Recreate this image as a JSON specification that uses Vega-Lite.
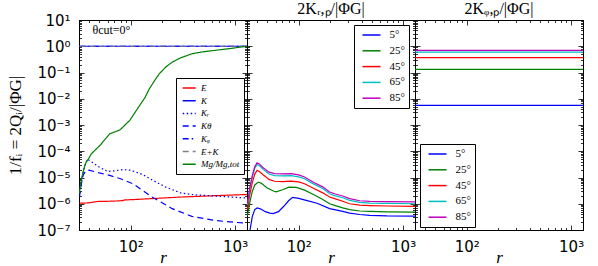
{
  "$schema": "https://vega.github.io/schema/vega-lite/v6.json",
  "background": "white",
  "padding": {"left": 6, "top": -7, "right": 5, "bottom": 9},
  "config": {
    "view": {"stroke": "black", "strokeWidth": 1},
    "axis": {"domainColor": "black", "tickColor": "black", "labelColor": "black", "titleColor": "black", "grid": false, "labelFont": "DejaVu Sans", "labelFontSize": 15, "labelOverlap": false, "labelFlush": false, "tickWidth": 0.8},
    "title": {"font": "Liberation Serif", "fontSize": 16, "fontWeight": "normal", "color": "black", "offset": 3},
    "legend": {"fillColor": "white", "strokeColor": "black", "strokeWidth": 1, "cornerRadius": 0, "title": null, "labelColor": "black", "symbolStrokeWidth": 1.5}
  },
  "datasets": {
    "p1": [
      {"s": "E", "r": 32.3, "v": 1.05e-6}, {"s": "E", "r": 38, "v": 1.07e-6}, {"s": "E", "r": 42, "v": 1.12e-6}, {"s": "E", "r": 46, "v": 1.18e-6}, {"s": "E", "r": 48, "v": 1.22e-6}, {"s": "E", "r": 60, "v": 1.24e-6}, {"s": "E", "r": 75, "v": 1.28e-6}, {"s": "E", "r": 84, "v": 1.32e-6}, {"s": "E", "r": 88, "v": 1.4e-6}, {"s": "E", "r": 110, "v": 1.45e-6}, {"s": "E", "r": 150, "v": 1.55e-6}, {"s": "E", "r": 200, "v": 1.65e-6}, {"s": "E", "r": 300, "v": 1.8e-6}, {"s": "E", "r": 500, "v": 1.95e-6}, {"s": "E", "r": 800, "v": 2.1e-6}, {"s": "E", "r": 1300, "v": 2.25e-6},
      {"s": "K", "r": 32.3, "v": 1}, {"s": "K", "r": 200, "v": 1}, {"s": "K", "r": 1300, "v": 1},
      {"s": "Kᵣ", "r": 32.3, "v": 1.8e-6}, {"s": "Kᵣ", "r": 33.5, "v": 5e-6}, {"s": "Kᵣ", "r": 35, "v": 1.5e-5}, {"s": "Kᵣ", "r": 37, "v": 3.5e-5}, {"s": "Kᵣ", "r": 38.5, "v": 5e-5}, {"s": "Kᵣ", "r": 42, "v": 4e-5}, {"s": "Kᵣ", "r": 50, "v": 2.5e-5}, {"s": "Kᵣ", "r": 60, "v": 1.7e-5}, {"s": "Kᵣ", "r": 70, "v": 1.8e-5}, {"s": "Kᵣ", "r": 85, "v": 2e-5}, {"s": "Kᵣ", "r": 100, "v": 1.9e-5}, {"s": "Kᵣ", "r": 130, "v": 1.3e-5}, {"s": "Kᵣ", "r": 175, "v": 6.7e-6}, {"s": "Kᵣ", "r": 220, "v": 4.2e-6}, {"s": "Kᵣ", "r": 300, "v": 2.6e-6}, {"s": "Kᵣ", "r": 400, "v": 2.2e-6}, {"s": "Kᵣ", "r": 600, "v": 2.0e-6}, {"s": "Kᵣ", "r": 900, "v": 1.8e-6}, {"s": "Kᵣ", "r": 1300, "v": 1.65e-6},
      {"s": "Kθ", "r": 32.3, "v": 1.8e-6}, {"s": "Kθ", "r": 33.5, "v": 5e-6}, {"s": "Kθ", "r": 35, "v": 1.2e-5}, {"s": "Kθ", "r": 37, "v": 1.8e-5}, {"s": "Kθ", "r": 40, "v": 1.9e-5}, {"s": "Kθ", "r": 50, "v": 1.5e-5}, {"s": "Kθ", "r": 63, "v": 1.2e-5}, {"s": "Kθ", "r": 80, "v": 9e-6}, {"s": "Kθ", "r": 105, "v": 5.8e-6}, {"s": "Kθ", "r": 130, "v": 3.2e-6}, {"s": "Kθ", "r": 160, "v": 1.8e-6}, {"s": "Kθ", "r": 200, "v": 1.1e-6}, {"s": "Kθ", "r": 250, "v": 6.5e-7}, {"s": "Kθ", "r": 385, "v": 3.3e-7}, {"s": "Kθ", "r": 650, "v": 2.3e-7}, {"s": "Kθ", "r": 1000, "v": 1.95e-7}, {"s": "Kθ", "r": 1300, "v": 1.85e-7},
      {"s": "Kᵩ", "r": 32.3, "v": 1}, {"s": "Kᵩ", "r": 200, "v": 1}, {"s": "Kᵩ", "r": 1300, "v": 1},
      {"s": "E+K", "r": 32.3, "v": 1}, {"s": "E+K", "r": 200, "v": 1}, {"s": "E+K", "r": 1300, "v": 1},
      {"s": "Mg/Mg,tot", "r": 32.3, "v": 2.5e-6}, {"s": "Mg/Mg,tot", "r": 33, "v": 5e-6}, {"s": "Mg/Mg,tot", "r": 34, "v": 1e-5}, {"s": "Mg/Mg,tot", "r": 35.5, "v": 2e-5}, {"s": "Mg/Mg,tot", "r": 37, "v": 3.5e-5}, {"s": "Mg/Mg,tot", "r": 39.5, "v": 5.2e-5}, {"s": "Mg/Mg,tot", "r": 42, "v": 8e-5}, {"s": "Mg/Mg,tot", "r": 51, "v": 1.7e-4}, {"s": "Mg/Mg,tot", "r": 63, "v": 4.6e-4}, {"s": "Mg/Mg,tot", "r": 79, "v": 6.5e-4}, {"s": "Mg/Mg,tot", "r": 98, "v": 1.5e-3}, {"s": "Mg/Mg,tot", "r": 122, "v": 5.6e-3}, {"s": "Mg/Mg,tot", "r": 137, "v": 1.1e-2}, {"s": "Mg/Mg,tot", "r": 151, "v": 2.4e-2}, {"s": "Mg/Mg,tot", "r": 170, "v": 5e-2}, {"s": "Mg/Mg,tot", "r": 188, "v": 0.09}, {"s": "Mg/Mg,tot", "r": 220, "v": 0.17}, {"s": "Mg/Mg,tot", "r": 251, "v": 0.25}, {"s": "Mg/Mg,tot", "r": 300, "v": 0.36}, {"s": "Mg/Mg,tot", "r": 388, "v": 0.52}, {"s": "Mg/Mg,tot", "r": 500, "v": 0.62}, {"s": "Mg/Mg,tot", "r": 647, "v": 0.7}, {"s": "Mg/Mg,tot", "r": 900, "v": 0.82}, {"s": "Mg/Mg,tot", "r": 1300, "v": 1.0}
    ],
    "p2": [
      {"a": "5°", "r": 32.3, "v": 3e-8}, {"a": "5°", "r": 34.2, "v": 1e-7}, {"a": "5°", "r": 36, "v": 3.3e-7}, {"a": "5°", "r": 38, "v": 6.0e-7}, {"a": "5°", "r": 40, "v": 6.9e-7}, {"a": "5°", "r": 43, "v": 6.4e-7}, {"a": "5°", "r": 48, "v": 5.0e-7}, {"a": "5°", "r": 53, "v": 4.4e-7}, {"a": "5°", "r": 57, "v": 4.2e-7}, {"a": "5°", "r": 64, "v": 5e-7}, {"a": "5°", "r": 72, "v": 8e-7}, {"a": "5°", "r": 80, "v": 1.3e-6}, {"a": "5°", "r": 87.5, "v": 1.75e-6}, {"a": "5°", "r": 100, "v": 1.6e-6}, {"a": "5°", "r": 118, "v": 1.35e-6}, {"a": "5°", "r": 150, "v": 1.05e-6}, {"a": "5°", "r": 198, "v": 6.5e-7}, {"a": "5°", "r": 264, "v": 5.1e-7}, {"a": "5°", "r": 308, "v": 4.4e-7}, {"a": "5°", "r": 384, "v": 3.9e-7}, {"a": "5°", "r": 480, "v": 3.6e-7}, {"a": "5°", "r": 700, "v": 3.45e-7}, {"a": "5°", "r": 1300, "v": 3.4e-7},
      {"a": "25°", "r": 32.3, "v": 3.5e-7}, {"a": "25°", "r": 34, "v": 1.1e-6}, {"a": "25°", "r": 36, "v": 3e-6}, {"a": "25°", "r": 38, "v": 5.2e-6}, {"a": "25°", "r": 41, "v": 6.7e-6}, {"a": "25°", "r": 44, "v": 6e-6}, {"a": "25°", "r": 50, "v": 4e-6}, {"a": "25°", "r": 58, "v": 3e-6}, {"a": "25°", "r": 61, "v": 2.85e-6}, {"a": "25°", "r": 70, "v": 3.4e-6}, {"a": "25°", "r": 81, "v": 4.3e-6}, {"a": "25°", "r": 95, "v": 4.2e-6}, {"a": "25°", "r": 114, "v": 3.3e-6}, {"a": "25°", "r": 140, "v": 2.2e-6}, {"a": "25°", "r": 170, "v": 1.45e-6}, {"a": "25°", "r": 198, "v": 1.0e-6}, {"a": "25°", "r": 221, "v": 8.7e-7}, {"a": "25°", "r": 264, "v": 7e-7}, {"a": "25°", "r": 308, "v": 6e-7}, {"a": "25°", "r": 384, "v": 5.3e-7}, {"a": "25°", "r": 480, "v": 5.1e-7}, {"a": "25°", "r": 700, "v": 4.9e-7}, {"a": "25°", "r": 1300, "v": 4.8e-7},
      {"a": "45°", "r": 32.3, "v": 6e-7}, {"a": "45°", "r": 34, "v": 2.2e-6}, {"a": "45°", "r": 36, "v": 6.5e-6}, {"a": "45°", "r": 38, "v": 1.35e-5}, {"a": "45°", "r": 40, "v": 1.88e-5}, {"a": "45°", "r": 42, "v": 1.7e-5}, {"a": "45°", "r": 46, "v": 1.25e-5}, {"a": "45°", "r": 52, "v": 8.5e-6}, {"a": "45°", "r": 58.6, "v": 7.2e-6}, {"a": "45°", "r": 70, "v": 7.0e-6}, {"a": "45°", "r": 84.7, "v": 7.3e-6}, {"a": "45°", "r": 100, "v": 6.8e-6}, {"a": "45°", "r": 113.7, "v": 5.8e-6}, {"a": "45°", "r": 140, "v": 3.8e-6}, {"a": "45°", "r": 170, "v": 2.6e-6}, {"a": "45°", "r": 198, "v": 1.8e-6}, {"a": "45°", "r": 221, "v": 1.56e-6}, {"a": "45°", "r": 264, "v": 1.25e-6}, {"a": "45°", "r": 308, "v": 1.0e-6}, {"a": "45°", "r": 384, "v": 8.8e-7}, {"a": "45°", "r": 480, "v": 8.5e-7}, {"a": "45°", "r": 700, "v": 8.2e-7}, {"a": "45°", "r": 1300, "v": 8e-7},
      {"a": "65°", "r": 32.3, "v": 9e-7}, {"a": "65°", "r": 34, "v": 3.5e-6}, {"a": "65°", "r": 36, "v": 1.05e-5}, {"a": "65°", "r": 38, "v": 2.25e-5}, {"a": "65°", "r": 40, "v": 3.15e-5}, {"a": "65°", "r": 42, "v": 2.85e-5}, {"a": "65°", "r": 46, "v": 2.0e-5}, {"a": "65°", "r": 52, "v": 1.35e-5}, {"a": "65°", "r": 58.6, "v": 1.18e-5}, {"a": "65°", "r": 70, "v": 1.16e-5}, {"a": "65°", "r": 84.7, "v": 1.18e-5}, {"a": "65°", "r": 100, "v": 1.06e-5}, {"a": "65°", "r": 113.7, "v": 9e-6}, {"a": "65°", "r": 140, "v": 5.6e-6}, {"a": "65°", "r": 170, "v": 3.8e-6}, {"a": "65°", "r": 198, "v": 2.4e-6}, {"a": "65°", "r": 221, "v": 2.05e-6}, {"a": "65°", "r": 264, "v": 1.7e-6}, {"a": "65°", "r": 308, "v": 1.35e-6}, {"a": "65°", "r": 384, "v": 1.12e-6}, {"a": "65°", "r": 480, "v": 1.06e-6}, {"a": "65°", "r": 700, "v": 1.03e-6}, {"a": "65°", "r": 1300, "v": 1.0e-6},
      {"a": "85°", "r": 32.3, "v": 1.0e-6}, {"a": "85°", "r": 34, "v": 4e-6}, {"a": "85°", "r": 36, "v": 1.2e-5}, {"a": "85°", "r": 38, "v": 2.6e-5}, {"a": "85°", "r": 40, "v": 3.66e-5}, {"a": "85°", "r": 42, "v": 3.3e-5}, {"a": "85°", "r": 46, "v": 2.3e-5}, {"a": "85°", "r": 52, "v": 1.6e-5}, {"a": "85°", "r": 58.6, "v": 1.4e-5}, {"a": "85°", "r": 70, "v": 1.38e-5}, {"a": "85°", "r": 84.7, "v": 1.4e-5}, {"a": "85°", "r": 100, "v": 1.25e-5}, {"a": "85°", "r": 113.7, "v": 1.05e-5}, {"a": "85°", "r": 140, "v": 6.5e-6}, {"a": "85°", "r": 170, "v": 4.4e-6}, {"a": "85°", "r": 198, "v": 2.8e-6}, {"a": "85°", "r": 221, "v": 2.4e-6}, {"a": "85°", "r": 264, "v": 1.97e-6}, {"a": "85°", "r": 308, "v": 1.56e-6}, {"a": "85°", "r": 384, "v": 1.3e-6}, {"a": "85°", "r": 480, "v": 1.24e-6}, {"a": "85°", "r": 700, "v": 1.2e-6}, {"a": "85°", "r": 1300, "v": 1.18e-6}
    ],
    "p3": [
      {"a": "5°", "r": 32, "v": 0.0056}, {"a": "5°", "r": 1300, "v": 0.0056},
      {"a": "25°", "r": 32, "v": 0.132}, {"a": "25°", "r": 1300, "v": 0.132},
      {"a": "45°", "r": 32, "v": 0.37}, {"a": "45°", "r": 1300, "v": 0.37},
      {"a": "65°", "r": 32, "v": 0.6}, {"a": "65°", "r": 1300, "v": 0.6},
      {"a": "85°", "r": 32, "v": 0.7}, {"a": "85°", "r": 1300, "v": 0.7}
    ]
  },
  "resolve": {"scale": {"color": "independent", "strokeDash": "independent"}},
  "spacing": 0,
  "bounds": "flush",
  "hconcat": [
    {
      "width": 168, "height": 210,
      "title": {"text": " "},
      "resolve": {"axis": {"x": "independent", "y": "independent"}},
      "layer": [
        {
          "data": {"name": "p1"},
          "mark": {"type": "line", "clip": true, "strokeWidth": 1.2},
          "encoding": {
            "x": {"field": "r", "type": "quantitative", "scale": {"type": "log", "domain": [32, 1300], "nice": false},
              "axis": {"orient": "bottom", "values": [40, 50, 60, 70, 80, 90, 100, 200, 300, 400, 500, 600, 700, 800, 900, 1000], "labelExpr": "datum.value==100?'10²':datum.value==1000?'10³':''", "tickSize": {"condition": {"test": "datum.value==100||datum.value==1000", "value": -5}, "value": -2.5}, "labelPadding": 14, "title": "r", "titleFont": "Liberation Serif", "titleFontStyle": "italic", "titleFontWeight": "normal", "titleFontSize": 17, "titlePadding": -7}},
            "y": {"field": "v", "type": "quantitative", "scale": {"type": "log", "domain": [1e-7, 10], "nice": false},
              "axis": {"orient": "left", "values": [1e-7, 2e-7, 3e-7, 4e-7, 5e-7, 6e-7, 7e-7, 8e-7, 9e-7, 1e-6, 2e-6, 3e-6, 4e-6, 5e-6, 6e-6, 7e-6, 8e-6, 9e-6, 1e-5, 2e-5, 3e-5, 4e-5, 5e-5, 6e-5, 7e-5, 8e-5, 9e-5, 1e-4, 2e-4, 3e-4, 4e-4, 5e-4, 6e-4, 7e-4, 8e-4, 9e-4, 1e-3, 2e-3, 3e-3, 4e-3, 5e-3, 6e-3, 7e-3, 8e-3, 9e-3, 0.01, 0.02, 0.03, 0.04, 0.05, 0.06, 0.07, 0.08, 0.09, 0.1, 0.2, 0.3, 0.4, 0.5, 0.6, 0.7, 0.8, 0.9, 1, 2, 3, 4, 5, 6, 7, 8, 9, 10],
                "labelExpr": "abs(log(datum.value)/LN10-round(log(datum.value)/LN10))<0.001 ? '10'+['⁻⁷','⁻⁶','⁻⁵','⁻⁴','⁻³','⁻²','⁻¹','⁰','¹'][round(log(datum.value)/LN10)+7] : ''",
                "tickSize": {"condition": {"test": "abs(log(datum.value)/LN10-round(log(datum.value)/LN10))<0.001", "value": -5}, "value": -2.5}, "labelPadding": 14,
                "title": "1/fᵢ = 2Qᵢ/|ΦG|", "titleFont": "Liberation Serif", "titleFontWeight": "normal", "titleFontSize": 17, "titlePadding": 12}},
            "color": {"field": "s", "type": "nominal", "scale": {"domain": ["E", "K", "Kᵣ", "Kθ", "Kᵩ", "E+K", "Mg/Mg,tot"], "range": ["#ff0000", "#0000ff", "#0000ff", "#0000ff", "#0000ff", "#808080", "#008000"]},
              "legend": {"orient": "none", "legendX": 97, "legendY": 58, "padding": 4, "symbolType": "M-0.66,0H1.94", "symbolSize": 100, "rowPadding": 1.7, "labelOffset": 9, "labelFont": "Liberation Serif", "labelFontStyle": "italic", "labelFontSize": 9}},
            "strokeDash": {"field": "s", "type": "nominal", "scale": {"domain": ["E", "K", "Kᵣ", "Kθ", "Kᵩ", "E+K", "Mg/Mg,tot"], "range": [[1, 0], [1, 0], [1.5, 2.5], [6, 4], [6, 3, 1.5, 3], [6, 4], [1, 0]]}}
          }
        },
        {
          "data": {"name": "p1"},
          "mark": {"type": "line", "opacity": 0, "clip": true},
          "encoding": {
            "x": {"field": "r", "type": "quantitative", "scale": {"type": "log", "domain": [32, 1300], "nice": false},
              "axis": {"orient": "top", "values": [40, 50, 60, 70, 80, 90, 100, 200, 300, 400, 500, 600, 700, 800, 900, 1000], "labels": false, "tickSize": {"condition": {"test": "datum.value==100||datum.value==1000", "value": -5}, "value": -2.5}, "title": null}},
            "y": {"field": "v", "type": "quantitative", "scale": {"type": "log", "domain": [1e-7, 10], "nice": false},
              "axis": {"orient": "right", "values": [1e-7, 2e-7, 3e-7, 4e-7, 5e-7, 6e-7, 7e-7, 8e-7, 9e-7, 1e-6, 2e-6, 3e-6, 4e-6, 5e-6, 6e-6, 7e-6, 8e-6, 9e-6, 1e-5, 2e-5, 3e-5, 4e-5, 5e-5, 6e-5, 7e-5, 8e-5, 9e-5, 1e-4, 2e-4, 3e-4, 4e-4, 5e-4, 6e-4, 7e-4, 8e-4, 9e-4, 1e-3, 2e-3, 3e-3, 4e-3, 5e-3, 6e-3, 7e-3, 8e-3, 9e-3, 0.01, 0.02, 0.03, 0.04, 0.05, 0.06, 0.07, 0.08, 0.09, 0.1, 0.2, 0.3, 0.4, 0.5, 0.6, 0.7, 0.8, 0.9, 1, 2, 3, 4, 5, 6, 7, 8, 9, 10], "labels": false, "tickSize": {"condition": {"test": "abs(log(datum.value)/LN10-round(log(datum.value)/LN10))<0.001", "value": -5}, "value": -2.5}, "title": null}}
          }
        },
        {
          "data": {"values": [{}]},
          "mark": {"type": "text", "align": "left", "baseline": "middle", "font": "Liberation Serif", "fontSize": 12, "color": "black"},
          "encoding": {
            "x": {"datum": 43, "type": "quantitative", "scale": {"type": "log"}, "axis": null},
            "y": {"datum": 4, "type": "quantitative", "scale": {"type": "log"}, "axis": null},
            "text": {"value": "θcut=0°"}
          }
        }
      ]
    },
    {
      "width": 168, "height": 210,
      "title": {"text": "2Kᵣ,ₚ/|ΦG|"},
      "resolve": {"axis": {"x": "independent", "y": "independent"}},
      "layer": [
        {
          "data": {"name": "p2"},
          "mark": {"type": "line", "clip": true, "strokeWidth": 1.2},
          "encoding": {
            "x": {"field": "r", "type": "quantitative", "scale": {"type": "log", "domain": [32, 1300], "nice": false},
              "axis": {"orient": "bottom", "values": [40, 50, 60, 70, 80, 90, 100, 200, 300, 400, 500, 600, 700, 800, 900, 1000], "labelExpr": "datum.value==100?'10²':datum.value==1000?'10³':''", "tickSize": {"condition": {"test": "datum.value==100||datum.value==1000", "value": -5}, "value": -2.5}, "labelPadding": 14, "title": "r", "titleFont": "Liberation Serif", "titleFontStyle": "italic", "titleFontWeight": "normal", "titleFontSize": 17, "titlePadding": -7}},
            "y": {"field": "v", "type": "quantitative", "scale": {"type": "log", "domain": [1e-7, 10], "nice": false},
              "axis": {"orient": "left", "values": [1e-7, 2e-7, 3e-7, 4e-7, 5e-7, 6e-7, 7e-7, 8e-7, 9e-7, 1e-6, 2e-6, 3e-6, 4e-6, 5e-6, 6e-6, 7e-6, 8e-6, 9e-6, 1e-5, 2e-5, 3e-5, 4e-5, 5e-5, 6e-5, 7e-5, 8e-5, 9e-5, 1e-4, 2e-4, 3e-4, 4e-4, 5e-4, 6e-4, 7e-4, 8e-4, 9e-4, 1e-3, 2e-3, 3e-3, 4e-3, 5e-3, 6e-3, 7e-3, 8e-3, 9e-3, 0.01, 0.02, 0.03, 0.04, 0.05, 0.06, 0.07, 0.08, 0.09, 0.1, 0.2, 0.3, 0.4, 0.5, 0.6, 0.7, 0.8, 0.9, 1, 2, 3, 4, 5, 6, 7, 8, 9, 10], "labels": false, "tickSize": {"condition": {"test": "abs(log(datum.value)/LN10-round(log(datum.value)/LN10))<0.001", "value": -5}, "value": -2.5}, "title": null}},
            "color": {"field": "a", "type": "nominal", "scale": {"domain": ["5°", "25°", "45°", "65°", "85°"], "range": ["#0000ff", "#008000", "#ff0000", "#00bfbf", "#bf00bf"]},
              "legend": {"orient": "none", "legendX": 107, "legendY": 5, "padding": 4, "symbolType": "M-0.3,0H3.3", "symbolSize": 100, "rowPadding": 4.8, "labelOffset": 19.5, "labelFont": "Liberation Serif", "labelFontSize": 11}}
          }
        },
        {
          "data": {"name": "p2"},
          "mark": {"type": "line", "opacity": 0, "clip": true},
          "encoding": {
            "x": {"field": "r", "type": "quantitative", "scale": {"type": "log", "domain": [32, 1300], "nice": false},
              "axis": {"orient": "top", "values": [40, 50, 60, 70, 80, 90, 100, 200, 300, 400, 500, 600, 700, 800, 900, 1000], "labels": false, "tickSize": {"condition": {"test": "datum.value==100||datum.value==1000", "value": -5}, "value": -2.5}, "title": null}},
            "y": {"field": "v", "type": "quantitative", "scale": {"type": "log", "domain": [1e-7, 10], "nice": false},
              "axis": {"orient": "right", "values": [1e-7, 2e-7, 3e-7, 4e-7, 5e-7, 6e-7, 7e-7, 8e-7, 9e-7, 1e-6, 2e-6, 3e-6, 4e-6, 5e-6, 6e-6, 7e-6, 8e-6, 9e-6, 1e-5, 2e-5, 3e-5, 4e-5, 5e-5, 6e-5, 7e-5, 8e-5, 9e-5, 1e-4, 2e-4, 3e-4, 4e-4, 5e-4, 6e-4, 7e-4, 8e-4, 9e-4, 1e-3, 2e-3, 3e-3, 4e-3, 5e-3, 6e-3, 7e-3, 8e-3, 9e-3, 0.01, 0.02, 0.03, 0.04, 0.05, 0.06, 0.07, 0.08, 0.09, 0.1, 0.2, 0.3, 0.4, 0.5, 0.6, 0.7, 0.8, 0.9, 1, 2, 3, 4, 5, 6, 7, 8, 9, 10], "labels": false, "tickSize": {"condition": {"test": "abs(log(datum.value)/LN10-round(log(datum.value)/LN10))<0.001", "value": -5}, "value": -2.5}, "title": null}}
          }
        }
      ]
    },
    {
      "width": 168, "height": 210,
      "title": {"text": "2Kᵩ,ₚ/|ΦG|"},
      "resolve": {"axis": {"x": "independent", "y": "independent"}},
      "layer": [
        {
          "data": {"name": "p3"},
          "mark": {"type": "line", "clip": true, "strokeWidth": 1.2},
          "encoding": {
            "x": {"field": "r", "type": "quantitative", "scale": {"type": "log", "domain": [32, 1300], "nice": false},
              "axis": {"orient": "bottom", "values": [40, 50, 60, 70, 80, 90, 100, 200, 300, 400, 500, 600, 700, 800, 900, 1000], "labelExpr": "datum.value==100?'10²':datum.value==1000?'10³':''", "tickSize": {"condition": {"test": "datum.value==100||datum.value==1000", "value": -5}, "value": -2.5}, "labelPadding": 14, "title": "r", "titleFont": "Liberation Serif", "titleFontStyle": "italic", "titleFontWeight": "normal", "titleFontSize": 17, "titlePadding": -7}},
            "y": {"field": "v", "type": "quantitative", "scale": {"type": "log", "domain": [1e-7, 10], "nice": false},
              "axis": {"orient": "left", "values": [1e-7, 2e-7, 3e-7, 4e-7, 5e-7, 6e-7, 7e-7, 8e-7, 9e-7, 1e-6, 2e-6, 3e-6, 4e-6, 5e-6, 6e-6, 7e-6, 8e-6, 9e-6, 1e-5, 2e-5, 3e-5, 4e-5, 5e-5, 6e-5, 7e-5, 8e-5, 9e-5, 1e-4, 2e-4, 3e-4, 4e-4, 5e-4, 6e-4, 7e-4, 8e-4, 9e-4, 1e-3, 2e-3, 3e-3, 4e-3, 5e-3, 6e-3, 7e-3, 8e-3, 9e-3, 0.01, 0.02, 0.03, 0.04, 0.05, 0.06, 0.07, 0.08, 0.09, 0.1, 0.2, 0.3, 0.4, 0.5, 0.6, 0.7, 0.8, 0.9, 1, 2, 3, 4, 5, 6, 7, 8, 9, 10], "labels": false, "tickSize": {"condition": {"test": "abs(log(datum.value)/LN10-round(log(datum.value)/LN10))<0.001", "value": -5}, "value": -2.5}, "title": null}},
            "color": {"field": "a", "type": "nominal", "scale": {"domain": ["5°", "25°", "45°", "65°", "85°"], "range": ["#0000ff", "#008000", "#ff0000", "#00bfbf", "#bf00bf"]},
              "legend": {"orient": "none", "legendX": 5, "legendY": 124, "padding": 4, "symbolType": "M-0.3,0H3.3", "symbolSize": 100, "rowPadding": 4.8, "labelOffset": 19.5, "labelFont": "Liberation Serif", "labelFontSize": 11}}
          }
        },
        {
          "data": {"name": "p3"},
          "mark": {"type": "line", "opacity": 0, "clip": true},
          "encoding": {
            "x": {"field": "r", "type": "quantitative", "scale": {"type": "log", "domain": [32, 1300], "nice": false},
              "axis": {"orient": "top", "values": [40, 50, 60, 70, 80, 90, 100, 200, 300, 400, 500, 600, 700, 800, 900, 1000], "labels": false, "tickSize": {"condition": {"test": "datum.value==100||datum.value==1000", "value": -5}, "value": -2.5}, "title": null}},
            "y": {"field": "v", "type": "quantitative", "scale": {"type": "log", "domain": [1e-7, 10], "nice": false},
              "axis": {"orient": "right", "values": [1e-7, 2e-7, 3e-7, 4e-7, 5e-7, 6e-7, 7e-7, 8e-7, 9e-7, 1e-6, 2e-6, 3e-6, 4e-6, 5e-6, 6e-6, 7e-6, 8e-6, 9e-6, 1e-5, 2e-5, 3e-5, 4e-5, 5e-5, 6e-5, 7e-5, 8e-5, 9e-5, 1e-4, 2e-4, 3e-4, 4e-4, 5e-4, 6e-4, 7e-4, 8e-4, 9e-4, 1e-3, 2e-3, 3e-3, 4e-3, 5e-3, 6e-3, 7e-3, 8e-3, 9e-3, 0.01, 0.02, 0.03, 0.04, 0.05, 0.06, 0.07, 0.08, 0.09, 0.1, 0.2, 0.3, 0.4, 0.5, 0.6, 0.7, 0.8, 0.9, 1, 2, 3, 4, 5, 6, 7, 8, 9, 10], "labels": false, "tickSize": {"condition": {"test": "abs(log(datum.value)/LN10-round(log(datum.value)/LN10))<0.001", "value": -5}, "value": -2.5}, "title": null}}
          }
        }
      ]
    }
  ]
}
